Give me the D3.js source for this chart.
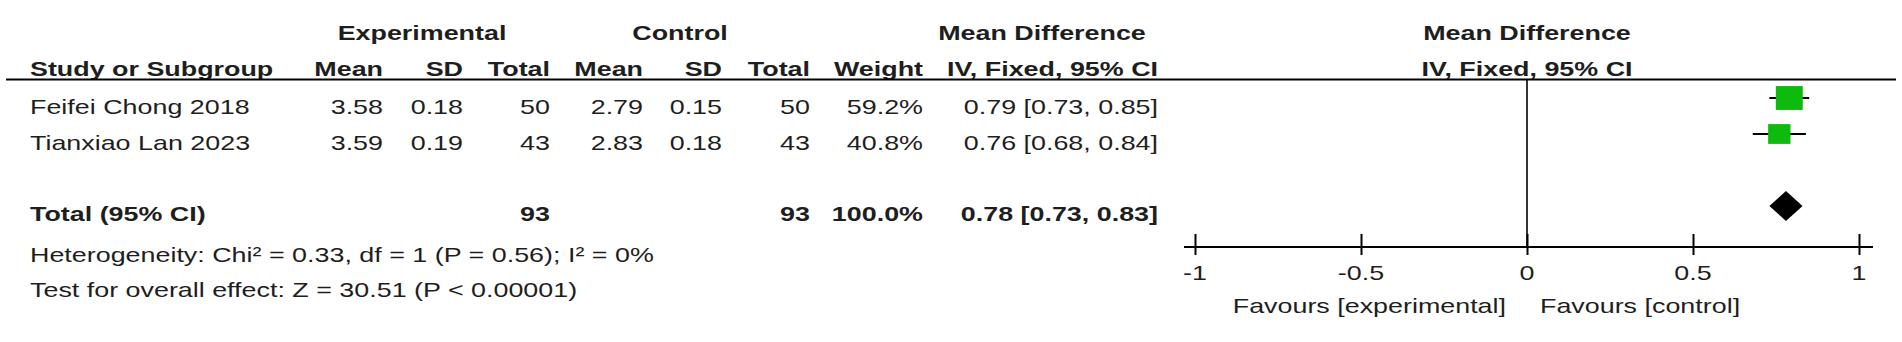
<!DOCTYPE html>
<html>
<head>
<meta charset="utf-8">
<script src="https://cdn.jsdelivr.net/npm/d3@7"></script>
<style>
  html, body { margin: 0; padding: 0; background: #fff; }
  svg { display: block; }
  text { font-family: "Liberation Sans", Arial, sans-serif; font-size: 21px; fill: #1e1e1e; }
  .b { font-weight: bold; }
</style>
</head>
<body>
<div id="chart"></div>
<script>
// datos del forest plot
const studies   = ["Feifei Chong 2018", "Tianxiao Lan 2023"];
const expMean   = [3.58, 3.59];
const expSD     = [0.18, 0.19];
const expN      = [50, 43];
const ctrlMean  = [2.79, 2.83];
const ctrlSD    = [0.15, 0.18];
const ctrlN     = [50, 43];
const weights   = [59.2, 40.8];
const md        = [0.79, 0.76];
const mdLow     = [0.73, 0.68];
const mdHigh    = [0.85, 0.84];
const totalN    = [93, 93];
const totalMD   = [0.78, 0.73, 0.83];   // estimate, low, high
const axisTicks = [-1, -0.5, 0, 0.5, 1];
const heterogeneity = "Heterogeneity: Chi\u00b2 = 0.33, df = 1 (P = 0.56); I\u00b2 = 0%";
const overallEffect = "Test for overall effect: Z = 30.51 (P < 0.00001)";

const width = 1902, height = 342;
const SX = 1.28; // el texto original es más ancho

const svg = d3.select("#chart").append("svg")
    .attr("width", width)
    .attr("height", height);

function label(x, y, str, anchor, bold) {
    return svg.append("text")
        .attr("class", bold ? "b" : null)
        .attr("text-anchor", anchor || "start")
        .attr("transform", `translate(${x},${y}) scale(${SX},1)`)
        .text(str);
}

const f2 = d3.format(".2f");
const ci = (m, l, h) => `${f2(m)} [${f2(l)}, ${f2(h)}]`;

// columnas (borde derecho)
const col = { study: 30, eMean: 383, eSD: 463, eN: 550, cMean: 643, cSD: 722, cN: 810, w: 923, ci: 1158 };
const rowY = [114, 150];
const totalY = 221;

// cabecera
label(422, 40, "Experimental", "middle", true);
label(680, 40, "Control", "middle", true);
label(1042, 40, "Mean Difference", "middle", true);
label(col.study, 76, "Study or Subgroup", "start", true);
label(col.eMean, 76, "Mean", "end", true);
label(col.eSD, 76, "SD", "end", true);
label(col.eN, 76, "Total", "end", true);
label(col.cMean, 76, "Mean", "end", true);
label(col.cSD, 76, "SD", "end", true);
label(col.cN, 76, "Total", "end", true);
label(col.w, 76, "Weight", "end", true);
label(col.ci, 76, "IV, Fixed, 95% CI", "end", true);

// escala del gráfico
const x = d3.scaleLinear().domain([-1, 1]).range([1195, 1859]);
const axisY = 247;

label(x(0), 40, "Mean Difference", "middle", true);
label(x(0), 76, "IV, Fixed, 95% CI", "middle", true);

svg.append("line")
    .attr("x1", 6).attr("x2", 1896)
    .attr("y1", 79.5).attr("y2", 79.5)
    .attr("stroke", "#000").attr("stroke-width", 2);

// filas de estudios
studies.forEach((s, i) => {
    const y = rowY[i];
    label(col.study, y, s);
    label(col.eMean, y, f2(expMean[i]), "end");
    label(col.eSD, y, f2(expSD[i]), "end");
    label(col.eN, y, expN[i], "end");
    label(col.cMean, y, f2(ctrlMean[i]), "end");
    label(col.cSD, y, f2(ctrlSD[i]), "end");
    label(col.cN, y, ctrlN[i], "end");
    label(col.w, y, weights[i].toFixed(1) + "%", "end");
    label(col.ci, y, ci(md[i], mdLow[i], mdHigh[i]), "end");
});

// fila total
label(col.study, totalY, "Total (95% CI)", "start", true);
label(col.eN, totalY, totalN[0], "end", true);
label(col.cN, totalY, totalN[1], "end", true);
label(col.w, totalY, d3.sum(weights).toFixed(1) + "%", "end", true);
label(col.ci, totalY, ci(totalMD[0], totalMD[1], totalMD[2]), "end", true);
label(col.study, 262, heterogeneity);
label(col.study, 297, overallEffect);

// línea vertical en cero
svg.append("line")
    .attr("x1", x(0)).attr("x2", x(0))
    .attr("y1", 80).attr("y2", axisY)
    .attr("stroke", "#000").attr("stroke-width", 1.6);

// intervalos y cuadrados
const marks = svg.append("g");
studies.forEach((s, i) => {
    const cy = rowY[i] - 16;
    marks.append("line")
        .attr("x1", x(mdLow[i])).attr("x2", x(mdHigh[i]))
        .attr("y1", cy).attr("y2", cy)
        .attr("stroke", "#000").attr("stroke-width", 2);
    const w = 3.5 * Math.sqrt(weights[i]);
    const h = 3.1 * Math.sqrt(weights[i]);
    marks.append("rect")
        .attr("x", x(md[i]) - w / 2).attr("y", cy - h / 2)
        .attr("width", w).attr("height", h)
        .attr("fill", "#0dbb0d");
});

// diamante del total
const dy = totalY - 15;
marks.append("path")
    .attr("d", `M${x(totalMD[1])},${dy} L${x(totalMD[0])},${dy - 15} L${x(totalMD[2])},${dy} L${x(totalMD[0])},${dy + 15} Z`)
    .attr("fill", "#000");

// eje
const axis = svg.append("g")
    .attr("transform", `translate(0,${axisY})`)
    .call(d3.axisBottom(x).tickValues(axisTicks).tickSize(0).tickFormat(d => String(d)));
axis.select(".domain").remove();
axis.selectAll(".tick line")
    .attr("y1", -13).attr("y2", 8)
    .attr("stroke", "#000").attr("stroke-width", 2);
axis.selectAll(".tick text").remove();
axis.append("line")
    .attr("x1", x(-1) - 11).attr("x2", x(1) + 14)
    .attr("stroke", "#000").attr("stroke-width", 2);

axisTicks.forEach(t => label(x(t), 280, String(t), "middle"));

label(x(0) - 21, 313, "Favours [experimental]", "end");
label(x(0) + 13, 313, "Favours [control]", "start");
</script>
</body>
</html>
